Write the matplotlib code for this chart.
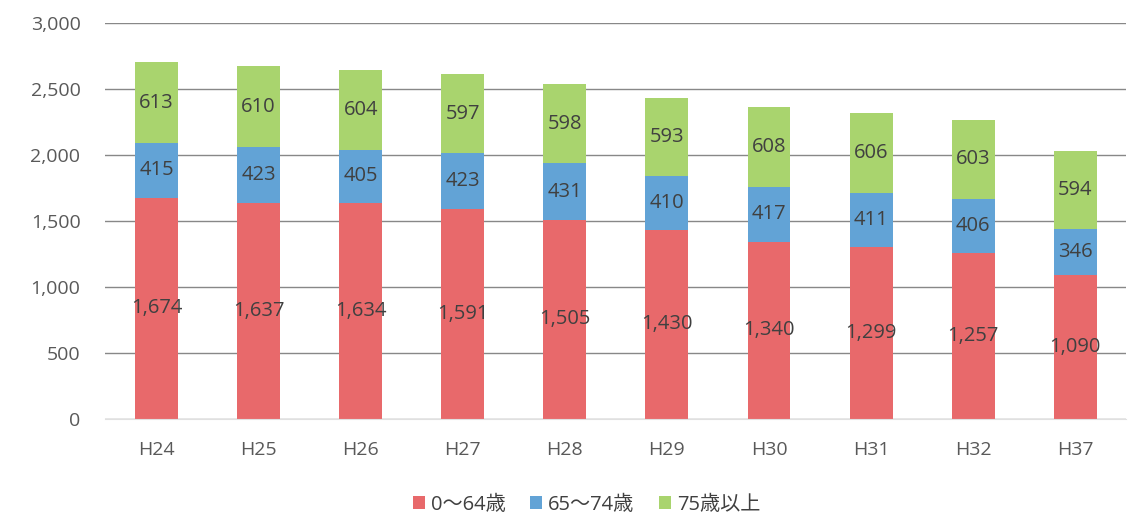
import matplotlib
matplotlib.use("Agg")
import matplotlib.pyplot as plt
import numpy as np

plt.rcParams['font.family'] = ['Open Sans', 'Noto Sans CJK JP', 'DejaVu Sans']

categories = ["H24", "H25", "H26", "H27", "H28", "H29", "H30", "H31", "H32", "H37"]
age_0_64 = [1674, 1637, 1634, 1591, 1505, 1430, 1340, 1299, 1257, 1090]
age_65_74 = [415, 423, 405, 423, 431, 410, 417, 411, 406, 346]
age_75_plus = [613, 610, 604, 597, 598, 593, 608, 606, 603, 594]
series_names = ["0～64歳", "65～74歳", "75歳以上"]
colors = ["#E8696B", "#62A3D6", "#A9D46E"]

fig = plt.figure(figsize=(11.28, 5.30), dpi=100)
ax = fig.add_axes([0.0935, 0.21, 0.905, 0.747])

x = np.arange(len(categories))
bottom = np.zeros(len(categories))
for vals, name, c in zip([age_0_64, age_65_74, age_75_plus], series_names, colors):
    vals = np.array(vals, dtype=float)
    ax.bar(x, vals, 0.42, bottom=bottom, color=c, label=name, zorder=2)
    for xi, b, v in zip(x, bottom, vals):
        ax.text(xi, b + v / 2, f"{int(v):,}", ha="center", va="center",
                fontsize=14.5, color="#404040", zorder=3)
    bottom += vals

ax.set_xlim(-0.5, len(categories) - 0.5)
ax.set_ylim(0, 3000)
ax.set_yticks(range(0, 3001, 500))
ax.yaxis.set_major_formatter(matplotlib.ticker.FuncFormatter(lambda v, p: f"{int(v):,}"))
ax.set_xticks(x)
ax.set_xticklabels(categories)
ax.tick_params(axis="both", length=0, labelsize=14, labelcolor="#595959")
ax.tick_params(axis="x", pad=16)
ax.tick_params(axis="y", pad=18)
ax.grid(axis="y", color="#888888", linewidth=1.0, zorder=1)
for s in ["top", "right", "left"]:
    ax.spines[s].set_visible(False)
ax.spines["bottom"].set_color("#e0e0e0")

fig.legend(loc="lower center", bbox_to_anchor=(0.52, -0.005), ncol=3, frameon=False,
           fontsize=14.5, handlelength=0.6, handleheight=0.6, handletextpad=0.3,
           columnspacing=1.2, labelcolor="#404040")

fig.savefig("out.png", dpi=100)
